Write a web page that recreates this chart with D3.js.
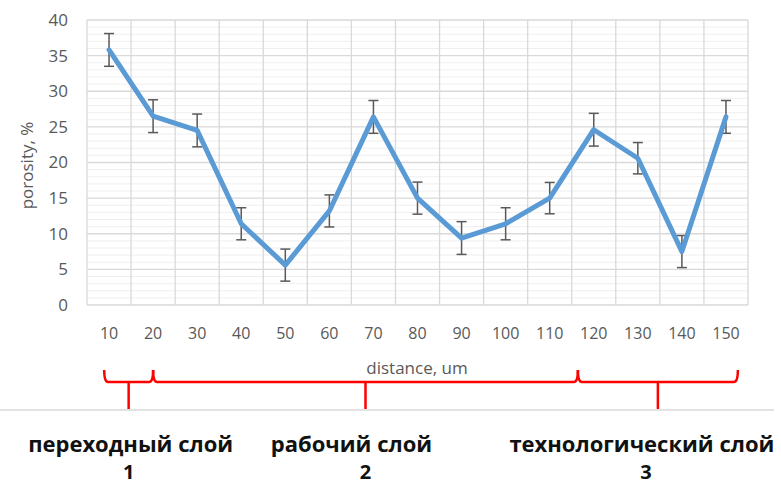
<!DOCTYPE html>
<html>
<head>
<meta charset="utf-8">
<script src="https://cdn.jsdelivr.net/npm/d3@7"></script>
<style>
  body { margin: 0; background: #fff; }
  svg { display: block; font-family: "Open Sans", sans-serif; }
</style>
</head>
<body>
<svg id="chart"></svg>
<script>
// values
const distances = ["10", "20", "30", "40", "50", "60", "70", "80", "90", "100", "110", "120", "130", "140", "150"];
const porosity = [35.8, 26.5, 24.5, 11.4, 5.6, 13.2, 26.4, 15.0, 9.4, 11.4, 15.0, 24.6, 20.6, 7.5, 26.4];
const errors = [2.3, 2.3, 2.3, 2.25, 2.25, 2.25, 2.3, 2.25, 2.3, 2.25, 2.2, 2.3, 2.2, 2.25, 2.3];
const yTicks = [0, 5, 10, 15, 20, 25, 30, 35, 40];

// layers under the axis (distance, um)
const layerNames = ["переходный слой", "рабочий слой", "технологический слой"];
const layerNums = ["1", "2", "3"];
const layerFrom = [8.9, 20, 116.4];
const layerTo = [20, 116.4, 152.7];

const W = 781, H = 486;
const margin = { top: 20, right: 33, bottom: 181, left: 87 };

const svg = d3.select("#chart").attr("width", W).attr("height", H);

const x = d3.scaleBand()
    .domain(distances)
    .range([margin.left, W - margin.right])
    .padding(0);
const y = d3.scaleLinear()
    .domain([0, 40])
    .range([H - margin.bottom, margin.top]);
// continuous version of x for the brackets
const xd = d3.scaleLinear()
    .domain([+distances[0], +distances[distances.length - 1]])
    .range([x(distances[0]) + x.bandwidth() / 2, x(distances[distances.length - 1]) + x.bandwidth() / 2]);

const cx = d => x(d) + x.bandwidth() / 2;

// minor gridlines
svg.append("g")
    .selectAll("line")
    .data(d3.range(0, 40, 1).filter(v => v % 5 != 0))
    .join("line")
    .attr("x1", x.range()[0]).attr("x2", x.range()[1])
    .attr("y1", d => y(d)).attr("y2", d => y(d))
    .attr("stroke", "#efefef")
    .attr("stroke-width", 1);

// major gridlines
svg.append("g")
    .selectAll("line")
    .data(yTicks)
    .join("line")
    .attr("x1", x.range()[0]).attr("x2", x.range()[1])
    .attr("y1", d => y(d)).attr("y2", d => y(d))
    .attr("stroke", "#d9d9d9")
    .attr("stroke-width", 1.3);

// vertical gridlines at band edges
svg.append("g")
    .selectAll("line")
    .data(distances.map(d => x(d)).concat([x.range()[1]]))
    .join("line")
    .attr("x1", d => d).attr("x2", d => d)
    .attr("y1", y(0)).attr("y2", y(40))
    .attr("stroke", "#d9d9d9")
    .attr("stroke-width", 1.3);

// y axis labels
const yAxis = svg.append("g")
    .attr("transform", `translate(${margin.left - 19},0)`)
    .call(d3.axisLeft(y).tickValues(yTicks).tickSize(0).tickPadding(0));
yAxis.select(".domain").remove();
yAxis.selectAll("text")
    .attr("fill", "#595959")
    .style("font-size", "17px")
    .style("font-family", "Open Sans");

// x axis labels
const xAxis = svg.append("g")
    .attr("transform", `translate(0,${y(0) + 18})`)
    .call(d3.axisBottom(x).tickSize(0).tickPadding(0));
xAxis.select(".domain").remove();
xAxis.selectAll("text")
    .attr("fill", "#595959")
    .attr("dy", "0.35em")
    .attr("y", 10)
    .style("font-size", "16px")
    .style("font-family", "Open Sans");

// axis titles
svg.append("text")
    .attr("transform", `translate(27,${(y(0) + y(40)) / 2 + 3}) rotate(-90)`)
    .attr("text-anchor", "middle")
    .attr("dy", "0.35em")
    .attr("fill", "#595959")
    .style("font-size", "17px")
    .text("porosity, %");

svg.append("text")
    .attr("x", 417)
    .attr("y", 368)
    .attr("dy", "0.35em")
    .attr("text-anchor", "middle")
    .attr("fill", "#595959")
    .style("font-size", "17px")
    .text("distance, um");

// error bars
const eb = svg.append("g")
    .attr("stroke", "#595959")
    .attr("stroke-width", 1.5);
distances.forEach((d, i) => {
    const lo = y(porosity[i] - errors[i]), hi = y(porosity[i] + errors[i]);
    eb.append("line").attr("x1", cx(d)).attr("x2", cx(d)).attr("y1", lo).attr("y2", hi);
    eb.append("line").attr("x1", cx(d) - 5).attr("x2", cx(d) + 5).attr("y1", lo).attr("y2", lo);
    eb.append("line").attr("x1", cx(d) - 5).attr("x2", cx(d) + 5).attr("y1", hi).attr("y2", hi);
});

// series line
svg.append("path")
    .datum(distances.map((d, i) => [cx(d), y(porosity[i])]))
    .attr("fill", "none")
    .attr("stroke", "#5b9bd5")
    .attr("stroke-width", 5)
    .attr("stroke-linejoin", "round")
    .attr("stroke-linecap", "round")
    .attr("d", d3.line());

// gray separator
svg.append("line")
    .attr("x1", 0).attr("x2", 774)
    .attr("y1", 410).attr("y2", 410)
    .attr("stroke", "#d9d9d9")
    .attr("stroke-width", 1.5);

// red braces
const braceY = 382, tipY = 370, stemY = 409;
const braces = svg.append("g")
    .attr("fill", "none")
    .attr("stroke", "#ff0000")
    .attr("stroke-width", 2.5)
    .attr("stroke-linejoin", "round");
layerNames.forEach((name, i) => {
    const a = xd(layerFrom[i]), b = xd(layerTo[i]), m = (a + b) / 2;
    const p = d3.path();
    p.moveTo(a, tipY);
    p.quadraticCurveTo(a, braceY, a + 4, braceY);
    p.lineTo(b - 4, braceY);
    p.quadraticCurveTo(b, braceY, b, tipY);
    braces.append("path").attr("d", p.toString());
    braces.append("line")
        .attr("x1", m).attr("x2", m)
        .attr("y1", braceY).attr("y2", stemY);
});

// layer captions
const labelDx = [2, -14, -16];
layerNames.forEach((name, i) => {
    const m = (xd(layerFrom[i]) + xd(layerTo[i])) / 2;
    svg.append("text")
        .attr("x", m + labelDx[i])
        .attr("y", 452)
        .attr("text-anchor", "middle")
        .attr("fill", "#111")
        .style("font-size", "22px")
        .style("font-weight", 700)
        .text(name);
    svg.append("text")
        .attr("x", m - (i == 2 ? 12 : 0))
        .attr("y", 479)
        .attr("text-anchor", "middle")
        .attr("fill", "#111")
        .style("font-size", "20px")
        .style("font-weight", 700)
        .text(layerNums[i]);
});
</script>
</body>
</html>
